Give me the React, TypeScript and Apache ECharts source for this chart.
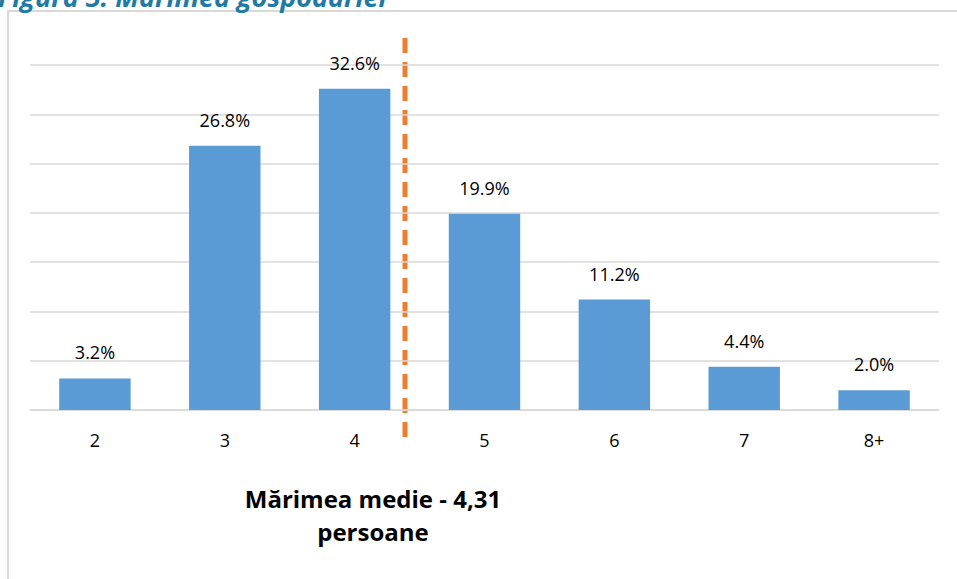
import React, { useEffect, useRef } from "react";
import * as echarts from "echarts";

const categories = ["2", "3", "4", "5", "6", "7", "8+"];
const shares = [3.2, 26.8, 32.6, 19.9, 11.2, 4.4, 2.0];
const titleText = "Figura 3. Mărimea gospodăriei";
const noteLines = ["Mărimea medie - 4,31", "persoane"];

export default function App() {
  const ref = useRef<HTMLDivElement>(null);
  useEffect(() => {
    if (!ref.current) return;
    const chart = echarts.init(ref.current, undefined, { renderer: "svg" });
    const font = "'Open Sans', 'Noto Sans', sans-serif";
    chart.setOption({
      animation: false,
      backgroundColor: "#ffffff",
      grid: { left: 30, right: 18, top: 65, bottom: 169 },
      xAxis: {
        type: "category",
        data: categories,
        axisTick: { show: false },
        axisLine: { lineStyle: { color: "#d9d9d9", width: 1.5 } },
        axisLabel: { color: "#000", fontSize: 18, fontFamily: font, margin: 21 },
      },
      yAxis: {
        type: "value",
        min: 0,
        max: 35,
        interval: 5,
        axisLabel: { show: false },
        axisLine: { show: false },
        axisTick: { show: false },
        splitLine: { lineStyle: { color: "#d9d9d9", width: 1.5 } },
      },
      series: [
        {
          type: "bar",
          data: shares,
          barWidth: "55%",
          itemStyle: { color: "#5B9BD5" },
          label: {
            show: true,
            position: "top",
            distance: 17,
            color: "#000",
            fontSize: 18,
            fontFamily: font,
            formatter: (p: any) => p.value.toFixed(1) + "%",
          },
        },
      ],
      graphic: [
        {
          type: "rect",
          shape: { x: 8, y: 11, width: 1000, height: 700 },
          style: { fill: "none", stroke: "#d9d9d9", lineWidth: 2 },
          silent: true,
        },
        {
          type: "text",
          x: -2,
          y: 10,
          style: {
            text: titleText,
            fill: "#1F7BA6",
            font: "italic bold 27px " + font,
            textVerticalAlign: "bottom",
          },
        },
        {
          type: "line",
          shape: { x1: 405, y1: 38, x2: 405, y2: 437 },
          style: { stroke: "#ED7D31", lineWidth: 5, lineDash: [15, 9] },
        },
        {
          type: "text",
          x: 373,
          y: 498,
          style: {
            text: noteLines[0],
            fill: "#000",
            font: "bold 24px " + font,
            textAlign: "center",
            textVerticalAlign: "middle",
          },
        },
        {
          type: "text",
          x: 373,
          y: 531,
          style: {
            text: noteLines[1],
            fill: "#000",
            font: "bold 24px " + font,
            textAlign: "center",
            textVerticalAlign: "middle",
          },
        },
      ],
    });
    return () => chart.dispose();
  }, []);
  return (
    <div
      ref={ref}
      style={{ position: "fixed", left: 0, top: 0, width: 957, height: 579 }}
    />
  );
}
